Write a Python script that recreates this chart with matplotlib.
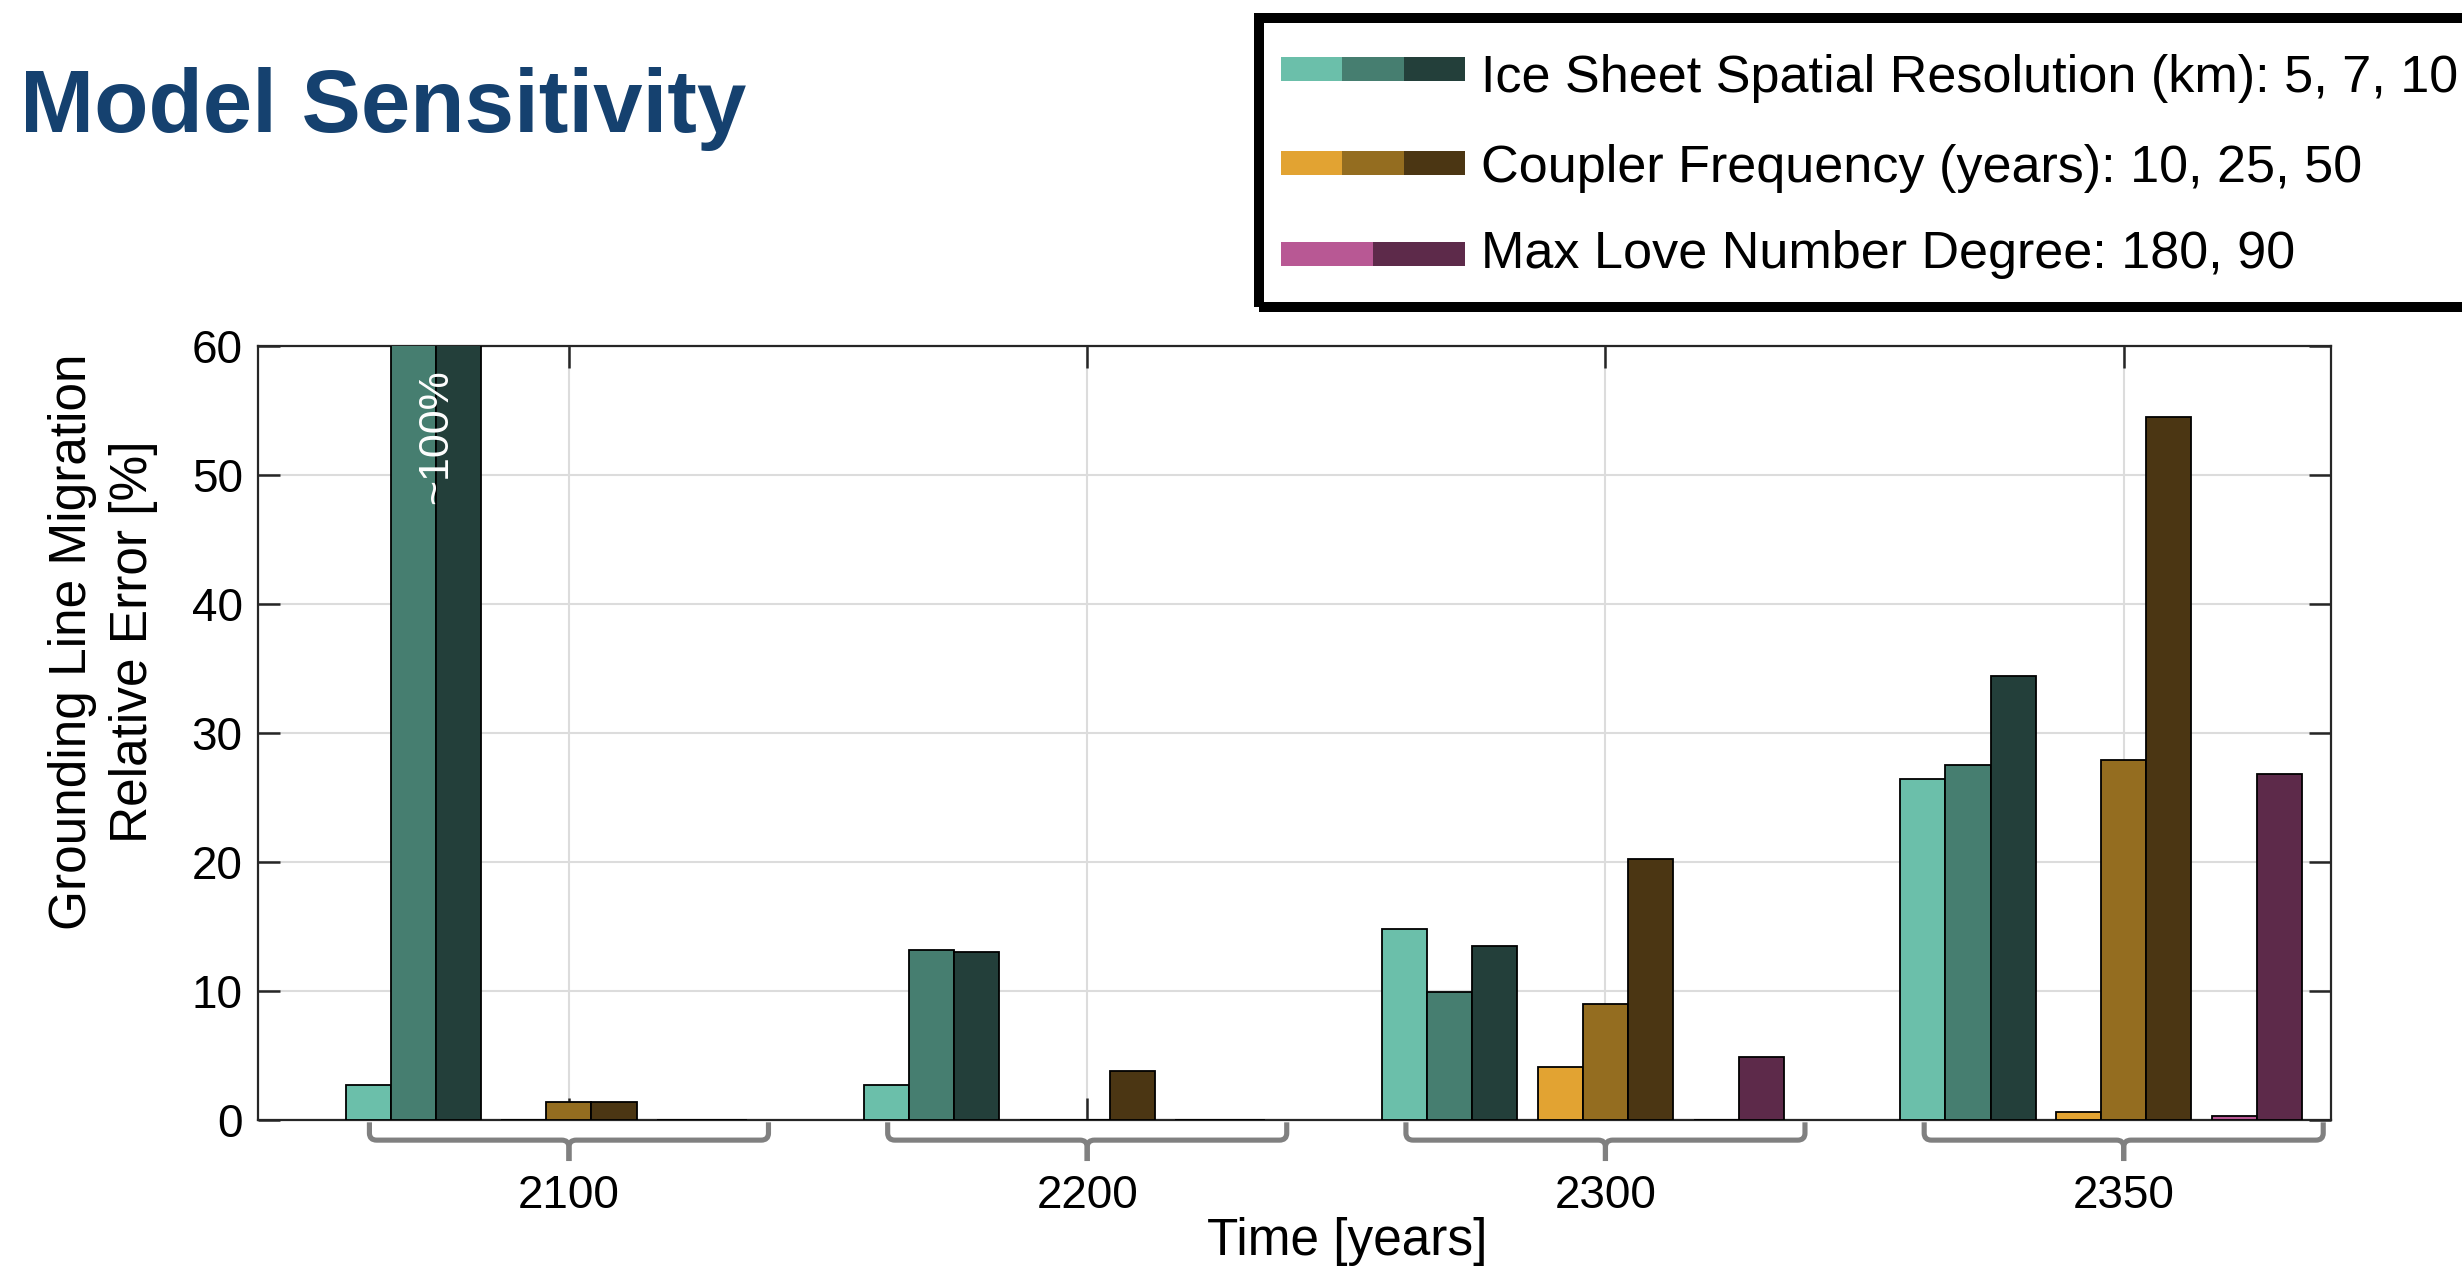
import matplotlib
matplotlib.use('Agg')
import matplotlib.pyplot as plt
import numpy as np
from matplotlib.path import Path
from matplotlib.patches import PathPatch, Rectangle
import matplotlib.transforms as mtransforms

# ---------------- data ----------------
years = ['2100', '2200', '2300', '2350']
res_5 = [2.7, 2.7, 14.8, 26.4]
res_7 = [100, 13.2, 9.9, 27.5]
res_10 = [100, 13.0, 13.5, 34.4]
cpl_10 = [0, 0, 4.1, 0.6]
cpl_25 = [1.4, 0, 9.0, 27.9]
cpl_50 = [1.4, 3.8, 20.2, 54.5]
love_180 = [0, 0, 0, 0.3]
love_90 = [0, 0, 4.9, 26.8]

teal = ['#6BBFAA', '#467E70', '#233F3A']
coupler = ['#E2A332', '#946D20', '#4B3613']
love = ['#B85894', '#5D2A4A']

legend_labels = ['Ice Sheet Spatial Resolution (km): 5, 7, 10',
                 'Coupler Frequency (years): 10, 25, 50',
                 'Max Love Number Degree: 180, 90']
yticks = [0, 10, 20, 30, 40, 50, 60]

plt.rcParams['font.family'] = ['Liberation Sans', 'DejaVu Sans']

W, H = 2462, 1267
fig = plt.figure(figsize=(W / 100, H / 100), dpi=100)


def fx(px):
    return px / W


def fy(py):
    return 1 - py / H


ax = fig.add_axes([fx(258), fy(1120), fx(2331) - fx(258), fy(346) - fy(1120)])

x = np.arange(len(years))
w = 0.087   # slot width
g = 0.0394  # gap between parameter subgroups
start = -(9 * w + 2 * g) / 2

series = [
    (res_5, teal[0], 0, 0), (res_7, teal[1], 0, 1), (res_10, teal[2], 0, 2),
    (cpl_10, coupler[0], 1, 0), (cpl_25, coupler[1], 1, 1), (cpl_50, coupler[2], 1, 2),
    (love_180, love[0], 2, 0), (love_90, love[1], 2, 1),
]


def offset(k, j):
    return start + (3 * k + j + 0.5) * w + k * g


for vals, col, k, j in series:
    ax.bar(x + offset(k, j), vals, width=w, color=col, edgecolor='black',
           linewidth=1.3, zorder=3)

ax.set_xlim(-0.6, 3.4)
ax.set_ylim(0, 60)
ax.set_yticks(yticks)
ax.set_xticks(x)
ax.set_xticklabels(years)
ax.grid(True, color='#DCDCDC', linewidth=1.5)
ax.set_axisbelow(True)
ax.tick_params(direction='in', length=16, width=1.8, top=True, right=True,
               labelsize=33, color='#262626')
ax.tick_params(axis='y', pad=11)
ax.tick_params(axis='x', labelbottom=False)
for s in ax.spines.values():
    s.set_linewidth(1.6)
    s.set_color('#262626')

# annotation for clipped bars
bx = offset(0, 1) + w / 2
ax.text(x[0] + bx, 53, '~100%', rotation=90, color='white', fontsize=31,
        ha='center', va='center', zorder=5)

# brackets under each group
trans = mtransforms.blended_transform_factory(ax.transData, ax.transAxes)
hw = 0.385
y0, y1, y2 = -0.003, -0.026, -0.053
rx, ry = 0.014, 0.009
for xc in x:
    for sgn in (-1, 1):
        xe = xc + sgn * hw
        verts = [(xe, y0), (xe, y1 + ry), (xe, y1), (xe - sgn * rx, y1),
                 (xc + sgn * rx, y1), (xc, y1), (xc, y1 - ry), (xc, y2)]
        codes = [Path.MOVETO, Path.LINETO, Path.CURVE3, Path.CURVE3,
                 Path.LINETO, Path.CURVE3, Path.CURVE3, Path.LINETO]
        pp = PathPatch(Path(verts, codes), transform=trans, fill=False,
                       edgecolor='#808080', linewidth=3.7, clip_on=False,
                       capstyle='butt', joinstyle='round')
        ax.add_patch(pp)
    ax.text(xc, -0.1137, years[xc], transform=trans, ha='center',
            va='baseline', fontsize=33)

# axis labels
fig.text(fx(1347), fy(1255), 'Time [years]', ha='center', va='baseline',
         fontsize=37)
fig.text(fx(103), fy(642), 'Grounding Line Migration\nRelative Error [%]',
         rotation=90, ha='center', va='center', multialignment='center',
         fontsize=37, linespacing=1.3)

# title
fig.text(fx(20), fy(132), 'Model Sensitivity', fontsize=64, fontweight='bold',
         color='#15416F', va='baseline')

# legend box
fig.patches.append(Rectangle((fx(1259), fy(307)), fx(2500) - fx(1259),
                             fy(18) - fy(307), transform=fig.transFigure,
                             fill=False, linewidth=7.2, edgecolor='black'))
rows = [(teal, 57, 81, 92), (coupler, 151, 175, 182), (love, 242, 266, 268)]
for (cols, ytop, ybot, ybase), lab in zip(rows, legend_labels):
    pw = 184 / len(cols)
    for i, c in enumerate(cols):
        fig.patches.append(Rectangle((fx(1281 + i * pw), fy(ybot)),
                                     fx(pw), fy(ytop) - fy(ybot),
                                     transform=fig.transFigure, color=c,
                                     linewidth=0))
    fig.text(fx(1481), fy(ybase), lab, va='baseline', fontsize=37.5)

fig.savefig('out.png', dpi=100)
